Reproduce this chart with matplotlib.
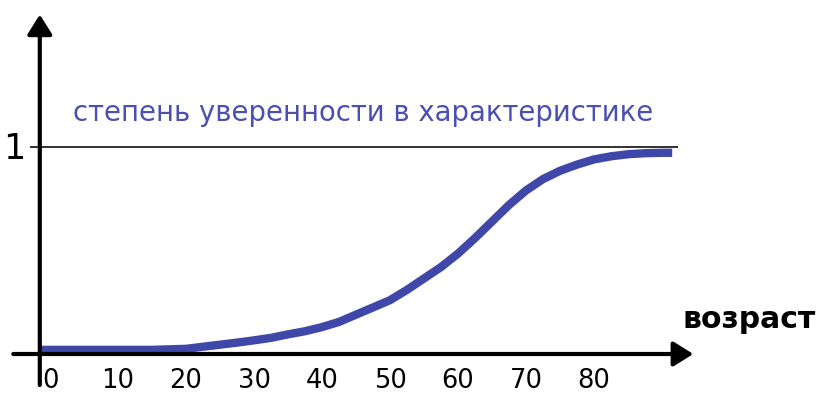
import matplotlib.pyplot as plt

# данные кривой (возраст -> степень уверенности)
age = [-1.5, 0, 5, 10, 15, 20, 22.5, 25, 27.5, 30, 32.5, 35, 37.5, 40, 42.5, 45,
       47.5, 50, 52.5, 55, 57.5, 60, 62.5, 65, 67.5, 70, 72.5, 75, 77.5, 80,
       82.5, 85, 87.5, 90, 91.5]
confidence = [0.02, 0.02, 0.02, 0.02, 0.02, 0.025, 0.035, 0.045, 0.055, 0.066,
              0.078, 0.095, 0.11, 0.13, 0.155, 0.19, 0.225, 0.26, 0.31, 0.365,
              0.42, 0.485, 0.56, 0.64, 0.72, 0.79, 0.845, 0.885, 0.915, 0.94,
              0.955, 0.965, 0.97, 0.972, 0.972]

tick_values = [0, 10, 20, 30, 40, 50, 60, 70, 80]
tick_labels = ["0", "10", "20", "30", "40", "50", "60", "70", "80"]

title = "степень уверенности в характеристике"
xlabel = "возраст"

W, H = 822, 394
fig = plt.figure(figsize=(W / 100, H / 100), dpi=100)
ax = fig.add_axes([0, 0, 1, 1])
ax.set_xlim((0 - 50) / 6.8, (W - 50) / 6.8)
ax.set_ylim((354 - H) / 207, 354 / 207)
ax.axis("off")

# оси со стрелками
ax.annotate("", xy=(94.6, 0), xytext=(-5.4, 0),
            arrowprops=dict(arrowstyle="-|>,head_length=1.2,head_width=0.75",
                            lw=3, color="black", shrinkA=0, shrinkB=0))
ax.annotate("", xy=(-1.5, 1.64), xytext=(-1.5, -0.15),
            arrowprops=dict(arrowstyle="-|>,head_length=1.2,head_width=0.75",
                            lw=3, color="black", shrinkA=0, shrinkB=0))

# уровень 1
ax.plot([-2.9, 92.4], [1, 1], color="#222222", lw=1.3, solid_capstyle="butt")
ax.text(-3.6, 0.99, "1", fontsize=25, ha="right", va="center", color="black")

# кривая
ax.plot(age, confidence, color="#3f48a8", lw=6, solid_joinstyle="round",
        solid_capstyle="butt")

# подписи
ax.text(3.4, 1.165, title, fontsize=19.8, color="#4a4fb0", ha="left", va="center")
ax.text(93, 0.165, xlabel, fontsize=21.5, fontweight="bold", ha="left", va="center")
for v, lab in zip(tick_values, tick_labels):
    ax.text(v, -0.132, lab, fontsize=18.5, ha="center", va="center")

fig.savefig("out.png", dpi=100)
